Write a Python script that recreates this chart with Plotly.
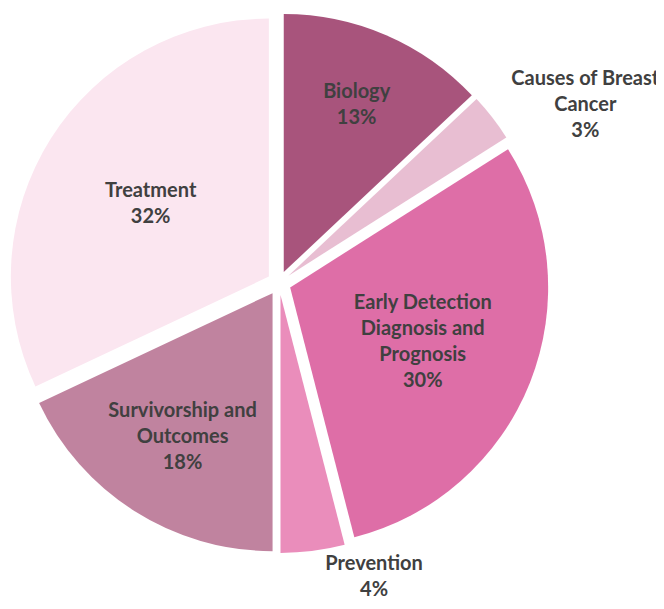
import plotly.graph_objects as go

categories = ["Biology", "Causes of Breast<br>Cancer", "Early Detection<br>Diagnosis and<br>Prognosis",
              "Prevention", "Survivorship and<br>Outcomes", "Treatment"]
values = [13, 3, 30, 4, 18, 32]
colors = ["#A8547C", "#E8BED2", "#DE6EA7", "#EA8DBB", "#C0839F", "#FBE6F0"]
text_positions = ["inside", "outside", "inside", "outside", "inside", "inside"]

W, H = 664, 609
font = dict(family="Lato", color="#404040", weight="bold")
fig = go.Figure(go.Pie(
    labels=categories,
    values=values,
    sort=False,
    direction="clockwise",
    rotation=0,
    pull=[0.0465] * len(values),
    marker=dict(colors=colors, line=dict(color="white", width=0)),
    texttemplate="%{label}<br>%{percent:.0%}",
    textposition=text_positions,
    insidetextorientation="horizontal",
    insidetextfont=dict(size=21, **font),
    outsidetextfont=dict(size=20, **font),
    hoverinfo="label+percent",
    automargin=False,
    showlegend=False,
    domain=dict(x=[1 / W, 541 / W], y=[64 / H, 604 / H]),
))
fig.update_layout(
    width=W, height=H,
    margin=dict(l=0, r=0, t=0, b=0),
    paper_bgcolor="white",
    uniformtext=dict(minsize=20, mode="show"),
)
fig.write_html("out.html")
